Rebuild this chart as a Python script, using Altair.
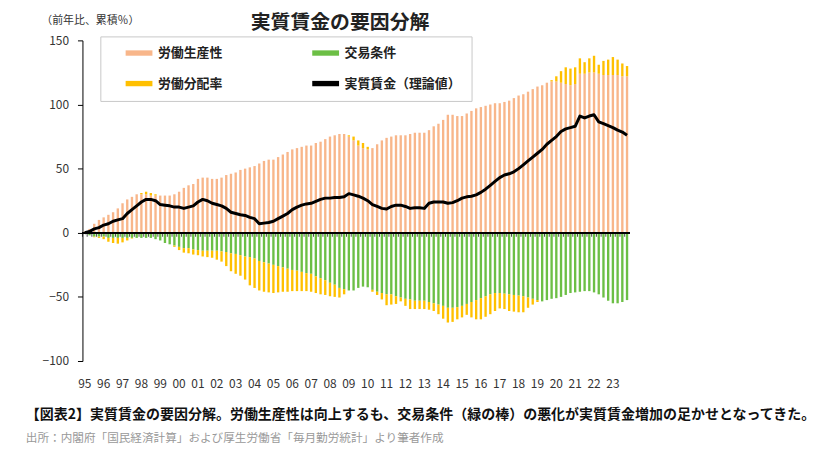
import pandas as pd
import altair as alt

FONT = "Noto Sans CJK JP"

years = list(range(1995, 2024))
quarters = [f"{y}Q{q}" for y in years for q in range(1, 5)]

# 四半期ごとの累積寄与（%）、図から読み取り
productivity = [
    1, 3, 7, 10, 12, 14, 16, 19, 23, 26, 28, 30, 30, 30, 29, 29,
    29, 29, 29, 30, 32, 35, 37, 38, 42, 43, 43, 42, 42, 43, 45, 46,
    47, 49, 50, 51, 52, 54, 56, 57, 57, 59, 61, 63, 65, 66, 67, 68,
    68, 70, 71, 73, 75, 76, 77, 77, 75, 72, 68, 66, 65, 66, 69, 72,
    74, 75, 76, 76, 76, 77, 78, 78, 78, 80, 83, 85, 88, 92, 92, 91,
    91, 93, 95, 97, 98, 99, 100, 101, 101, 102, 103, 105, 107, 108, 110, 112,
    114, 115, 117, 118, 118, 117, 116, 115, 116, 124, 124, 125, 125, 124, 123, 123,
    123, 123, 122, 122,
]
terms_of_trade = [
    -1, -2, -3, -3, -3, -4, -4, -4, -4, -4, -4, -4, -4, -4, -4, -5,
    -6, -8, -9, -10, -11, -12, -12, -13, -13.5, -14, -14, -14, -14, -14.5, -15, -16,
    -16.5, -17.5, -18.5, -19, -20, -22, -23, -24, -25, -26, -27, -28, -29, -29.5, -30.5, -31.5,
    -32, -34, -35.5, -37, -39, -40.5, -43, -44, -45, -45, -43, -42, -42.5, -44.5, -46, -47,
    -48, -48, -49.5, -50.5, -51.5, -52, -53, -53, -53, -54, -55, -56, -57, -58.5, -58.5, -58,
    -57, -55.5, -54, -52.5, -51, -49.5, -48, -47, -47, -47.5, -48, -48.5, -49, -49.5, -50.5, -51.5,
    -52.5, -53.5, -52.5, -51.5, -51, -50, -48.5, -47, -46.5, -46, -45.5, -45.5, -46.5, -48, -50.5, -53,
    -55, -55, -54, -52.5,
]
labor_share = [
    0, 0, -0.5, -1, -2, -3, -4, -4.5, -3.5, -2, -0.5, 0, 1, 2, 2, 1,
    0, 0, 0, -1, -2.5, -3.5, -4, -4, -4, -4.5, -5, -5.5, -7, -8, -11, -14,
    -15.5, -16, -18, -22, -23, -23, -23, -22.5, -22, -20.5, -19, -18, -16.5, -16, -15, -14,
    -14, -13, -12.5, -11.5, -10.5, -9.5, -7.5, -4, 1, 3, 4, 4, 2, -1.5, -2.5, -5,
    -8.5, -8, -6, -3, -5.5, -7.5, -6.5, -6.5, -6.5, -6, -6, -7.5, -10, -11.5, -11, -9.5,
    -9, -8.5, -12, -15, -16.5, -16, -15.5, -14, -12, -12, -13, -13, -13, -12.5, -8, -4.5,
    -1.5, 0, 0, 1, 4, 9, 13, 13, 13, 12, 9, 11, 13, 7, 11, 12,
    14, 12, 10, 8,
]
real_wage = [
    0, 1, 3, 4, 6, 7, 9, 10, 11, 15, 18, 21, 24, 26, 26, 25,
    22, 21.5, 21, 20, 20, 19, 20, 21, 24, 26, 25, 23, 22, 21, 19, 16,
    15, 14, 13.5, 12, 11, 7, 7.5, 8, 9, 11, 13, 15, 18, 20, 21.5, 22.5,
    23, 24.5, 26, 27, 27, 27.5, 27.5, 28, 30.5, 29.5, 28.5, 27, 25, 22, 20.5, 19,
    18.5, 20.5, 21.5, 21.5, 20.5, 19, 19.5, 19.5, 19, 23, 24, 24, 24, 23, 23.5, 25,
    27, 28, 28.5, 29.5, 31.5, 34, 37, 40, 43, 45, 46, 47.5, 50, 53, 56, 59,
    62, 65, 69, 72, 75, 79, 81, 82, 83, 91, 89.5, 91, 92, 86.5, 85, 83.5,
    82, 80, 78.5, 76,
]

series = ["労働生産性", "交易条件", "労働分配率"]
line_name = "実質賃金（理論値）"
colors = ["#F8B68A", "#6CBF45", "#FFC000", "#000000"]

rows = []
for k, vals in enumerate([productivity, terms_of_trade, labor_share]):
    for q, v in zip(quarters, vals):
        rows.append({"q": q, "系列": series[k], "k": k, "v": v})
bars_df = pd.DataFrame(rows)
line_df = pd.DataFrame({"q": quarters, "v": real_wage})

W, H = 551, 323
step = W / len(quarters)

# 凡例の記号は横長の帯
bar_shape = "M-2.25,-0.45H2.25V0.45H-2.25Z"

x = alt.X(
    "q:O",
    sort=quarters,
    scale=alt.Scale(paddingInner=0.5, paddingOuter=0.25),
    axis=alt.Axis(
        values=[f"{y}Q1" for y in years],
        labelExpr="slice(datum.value, 2, 4)",
        title=None, domain=False, ticks=False, labelAngle=0,
        labelPadding=18, labelFontSize=12, labelColor="#333",
    ),
)
y_scale = alt.Scale(domain=[-100, 150], nice=False)

legend = alt.Legend(
    title=None, orient="none", legendX=18, legendY=-4, direction="horizontal",
    columns=2, columnPadding=74, rowPadding=17, padding=10,
    fillColor="white", strokeColor="#c8c8c8",
    symbolSize=144, symbolType=bar_shape, symbolStrokeWidth=0,
    symbolOffset=22.5, labelOffset=12.5,
    labelFontSize=13, labelFontWeight="bold", labelColor="#222",
)

bars = alt.Chart(bars_df).mark_bar().encode(
    x=x,
    y=alt.Y(
        "v:Q",
        stack="zero",
        scale=y_scale,
        axis=alt.Axis(
            values=[-100, -50, 0, 50, 100, 150],
            title="（前年比、累積％）",
            titleAngle=0, titleX=-42, titleY=-20,
            titleAlign="left", titleBaseline="middle",
            titleFontSize=11, titleFontWeight="normal", titleColor="#333",
            grid=False, domainColor="black", tickColor="black",
            tickSize=5, labelPadding=9, labelFontSize=12, labelColor="#333",
        ),
    ),
    color=alt.Color(
        "系列:N",
        scale=alt.Scale(domain=series + [line_name], range=colors),
        legend=legend,
    ),
    order=alt.Order("k:Q"),
)

zero = alt.Chart(line_df).mark_rule(color="black", strokeWidth=1.2).encode(y=alt.datum(0))

ticks = alt.Chart(line_df).mark_tick(
    orient="vertical", size=4, thickness=1, color="black", xOffset=-step / 2, yOffset=2
).encode(x=x, y=alt.datum(0))

line = alt.Chart(line_df).mark_line(color="black", strokeWidth=3, strokeJoin="round").encode(
    x=x, y=alt.Y("v:Q", scale=y_scale)
)

main = alt.layer(bars, zero, ticks, line).properties(
    width=W, height=H,
    title=alt.TitleParams(
        "実質賃金の要因分解", fontSize=20, fontWeight="bold", color="#222",
        anchor="middle", dx=-16, offset=-19,
    ),
)

caption = "【図表2】実質賃金の要因分解。労働生産性は向上するも、交易条件（緑の棒）の悪化が実質賃金増加の足かせとなってきた。"
source = "出所：内閣府「国民経済計算」および厚生労働省「毎月勤労統計」より筆者作成"

chart = alt.vconcat(main).properties(
    title=alt.TitleParams(
        caption, subtitle=source, orient="bottom", anchor="start",
        fontSize=14.1, fontWeight="bold", color="#111",
        subtitleFontSize=11.7, subtitleColor="#999", subtitleFontWeight="normal",
        offset=18, subtitlePadding=11, dx=-15,
    ),
    padding={"left": 18, "top": 4, "right": 0, "bottom": 0},
).configure(font=FONT).configure_view(stroke=None)

chart.save("out.html", embed_options={"renderer": "svg", "actions": False})
